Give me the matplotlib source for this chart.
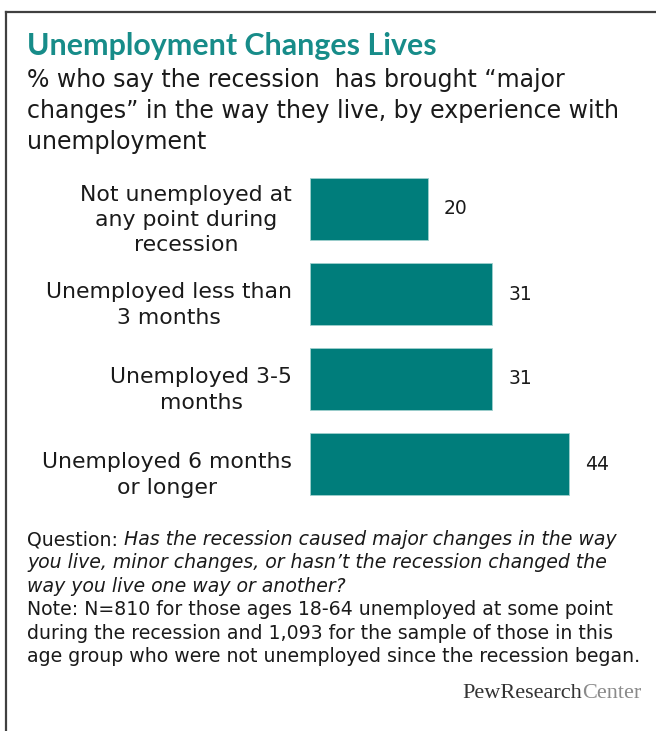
import matplotlib as mtl
mtl.use('Agg')
import matplotlib.pyplot as plt
from matplotlib.text import Annotation

# data
categories = ['Not unemployed at\nany point during\nrecession',
              'Unemployed less than\n3 months',
              'Unemployed 3-5\nmonths',
              'Unemployed 6 months\nor longer']
values = [20, 31, 31, 44]

title = 'Unemployment Changes Lives'
subtitle = ['% who say the recession  has brought \u201cmajor',
            'changes\u201d in the way they live, by experience with',
            'unemployment']
question_lbl = 'Question: '
question = ['Has the recession caused major changes in the way',
            'you live, minor changes, or hasn\u2019t the recession changed the',
            'way you live one way or another?']
note = ['Note: N=810 for those ages 18-64 unemployed at some point',
        'during the recession and 1,093 for the sample of those in this',
        'age group who were not unemployed since the recession began.']

W, H = 656, 731
BAR = '#007d7b'
TEAL = '#178c89'
TXT = '#1a1a1a'
FONT = 'DejaVu Sans'

def fx(x):
    return x / W

def fy(y):
    return 1 - y / H

fig = plt.figure(figsize=(W / 100, H / 100), dpi=100)
fig.patch.set_facecolor('white')

# frame around the graphic (left and top edges show)
fig.add_artist(plt.Line2D([fx(6), fx(6)], [fy(12), 0], color='#404040', lw=1.6))
fig.add_artist(plt.Line2D([fx(6), 1], [fy(12), fy(12)], color='#404040', lw=1.6))

# title and subtitle
fig.text(fx(27), fy(55), title, fontsize=21.9, fontweight='bold', color=TEAL,
         family='Lato', va='baseline')
for i, line in enumerate(subtitle):
    fig.text(fx(27), fy(87 + i * 31), line, fontsize=17.0, color=TXT,
             family=FONT, va='baseline')

# bars
ax = fig.add_axes([fx(310), fy(506.5), (294) / W, 340 / H])
ypos = list(range(len(values)))
ax.barh(ypos, values, height=0.74, color=BAR, edgecolor='#9fcfcd', linewidth=0.6)
ax.set_xlim(0, 50)
ax.set_ylim(len(values) - 0.5, -0.5)
ax.axis('off')

for y, v in zip(ypos, values):
    ax.annotate(str(v), xy=(v, y), xytext=(16, 0), textcoords='offset pixels',
                ha='left', va='center', fontsize=13.5, color=TXT, family=FONT)

for y, c in zip(ypos, categories):
    ax.annotate(c, xy=(0, y), xytext=(-18, -11), textcoords='offset pixels',
                ha='right', va='center', multialignment='center',
                fontsize=15.8, color=TXT, family=FONT, linespacing=1.33)

# footnote
FS = 13.6
LS = 23.4
q = fig.text(fx(27), fy(545), question_lbl, fontsize=FS, color=TXT,
             family=FONT, va='baseline')
for i, line in enumerate(question):
    if i == 0:
        fig.add_artist(Annotation(line, xy=(1, fy(545)), xycoords=(q, 'figure fraction'),
                                  fontsize=FS, color=TXT, family=FONT, style='italic',
                                  va='baseline', ha='left', annotation_clip=False))
    else:
        fig.text(fx(27), fy(545 + i * LS), line, fontsize=FS, color=TXT,
                 family=FONT, style='italic', va='baseline')
for i, line in enumerate(note):
    fig.text(fx(27), fy(545 + (i + 3) * LS), line, fontsize=FS, color=TXT,
             family=FONT, va='baseline')

# logo
logo = fig.text(fx(462), fy(698), 'PewResearch', fontsize=16,
                color='#333333', family='Liberation Serif', va='baseline')
fig.add_artist(Annotation('Center', xy=(1, fy(698)), xycoords=(logo, 'figure fraction'),
                          fontsize=16, color='#8a8a8a', family='Liberation Serif',
                          va='baseline', ha='left', annotation_clip=False))

plt.savefig('out.png', dpi=100)
